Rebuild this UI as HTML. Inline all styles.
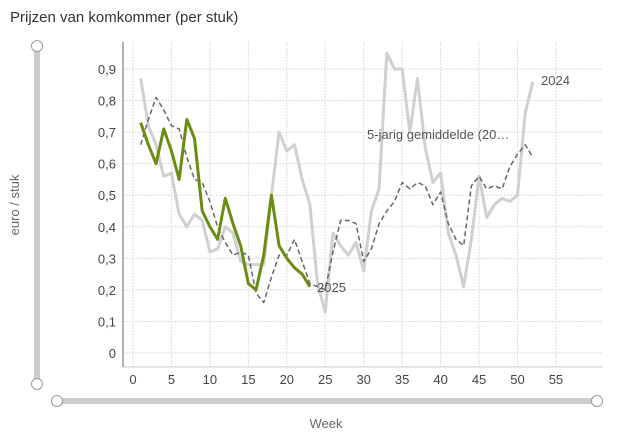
<!DOCTYPE html>
<html><head><meta charset="utf-8"><style>
body{margin:0;background:#fff;font-family:"Liberation Sans",sans-serif;}
</style></head><body>
<svg width="625" height="441" xmlns="http://www.w3.org/2000/svg" font-family="Liberation Sans, sans-serif">
<text x="10" y="22" font-size="15" fill="#333">Prijzen van komkommer (per stuk)</text>
<g id="grid" stroke="#ddd" stroke-width="1" stroke-dasharray="2,1"></g>
<line x1="123" y1="42" x2="123" y2="367" stroke="#666" stroke-width="1"/>
<line x1="123" y1="367" x2="603" y2="367" stroke="#ccc" stroke-width="1"/>
<g id="labels" font-size="13" fill="#444"></g>
<g id="series"></g>
<text x="541" y="85" font-size="13" fill="#555">2024</text>
<text x="367" y="139" font-size="13" fill="#555">5-jarig gemiddelde (20…</text>
<text x="317" y="292" font-size="13" fill="#555">2025</text>
<rect x="34" y="46" width="6" height="338" fill="#ccc"/>
<circle cx="37" cy="46" r="5.5" fill="#fff" stroke="#999"/>
<circle cx="37" cy="384" r="5.5" fill="#fff" stroke="#999"/>
<rect x="57" y="398" width="540" height="6" fill="#ccc"/>
<circle cx="57" cy="401" r="5.5" fill="#fff" stroke="#999"/>
<circle cx="597" cy="401" r="5.5" fill="#fff" stroke="#999"/>
<text transform="translate(19,205) rotate(-90)" text-anchor="middle" font-size="13" fill="#666">euro / stuk</text>
<text x="326" y="428" text-anchor="middle" font-size="13" fill="#666">Week</text>
</svg>
<script>
var X=w=>133+w*7.69, Y=v=>353-v*315.6, NS="http://www.w3.org/2000/svg";
function el(p,t,a,txt){var e=document.createElementNS(NS,t);for(var k in a)e.setAttribute(k,a[k]);if(txt!==undefined)e.textContent=txt;document.getElementById(p).appendChild(e);}
for(var i=0;i<=9;i++){var y=Y(i/10);el("grid","line",{x1:123,x2:603,y1:y,y2:y});el("labels","text",{x:116,y:y+5,"text-anchor":"end"},i==0?"0":"0,"+i);}
for(var w=0;w<=55;w+=5){var x=X(w);el("grid","line",{x1:x,x2:x,y1:42,y2:367});el("labels","text",{x:x,y:384,"text-anchor":"middle"},w);}
function pl(d,st){el("series","polyline",Object.assign({points:d.map((v,i)=>X(i+1)+","+Y(v)).join(" "),fill:"none","stroke-linejoin":"round"},st));}
pl([.87,.72,.66,.56,.57,.44,.40,.44,.42,.32,.33,.40,.38,.29,.28,.28,.28,.50,.70,.64,.66,.55,.47,.22,.13,.38,.34,.31,.35,.26,.45,.52,.95,.90,.90,.70,.87,.65,.54,.57,.38,.31,.21,.36,.56,.43,.47,.49,.48,.50,.76,.86],{stroke:"#d0d0d0","stroke-width":3});
pl([.66,.74,.81,.77,.72,.71,.62,.55,.54,.48,.40,.35,.31,.32,.31,.19,.16,.24,.31,.31,.36,.29,.22,.21,.20,.32,.42,.42,.41,.29,.33,.41,.45,.48,.54,.52,.54,.53,.47,.51,.41,.36,.34,.53,.56,.52,.53,.52,.59,.63,.66,.62],{stroke:"#666","stroke-width":1.5,"stroke-dasharray":"5,3"});
pl([.73,.66,.60,.71,.64,.55,.74,.68,.45,.40,.36,.49,.41,.34,.22,.20,.31,.50,.34,.30,.27,.25,.21],{stroke:"#6a8c12","stroke-width":3});
</script>
</body></html>
